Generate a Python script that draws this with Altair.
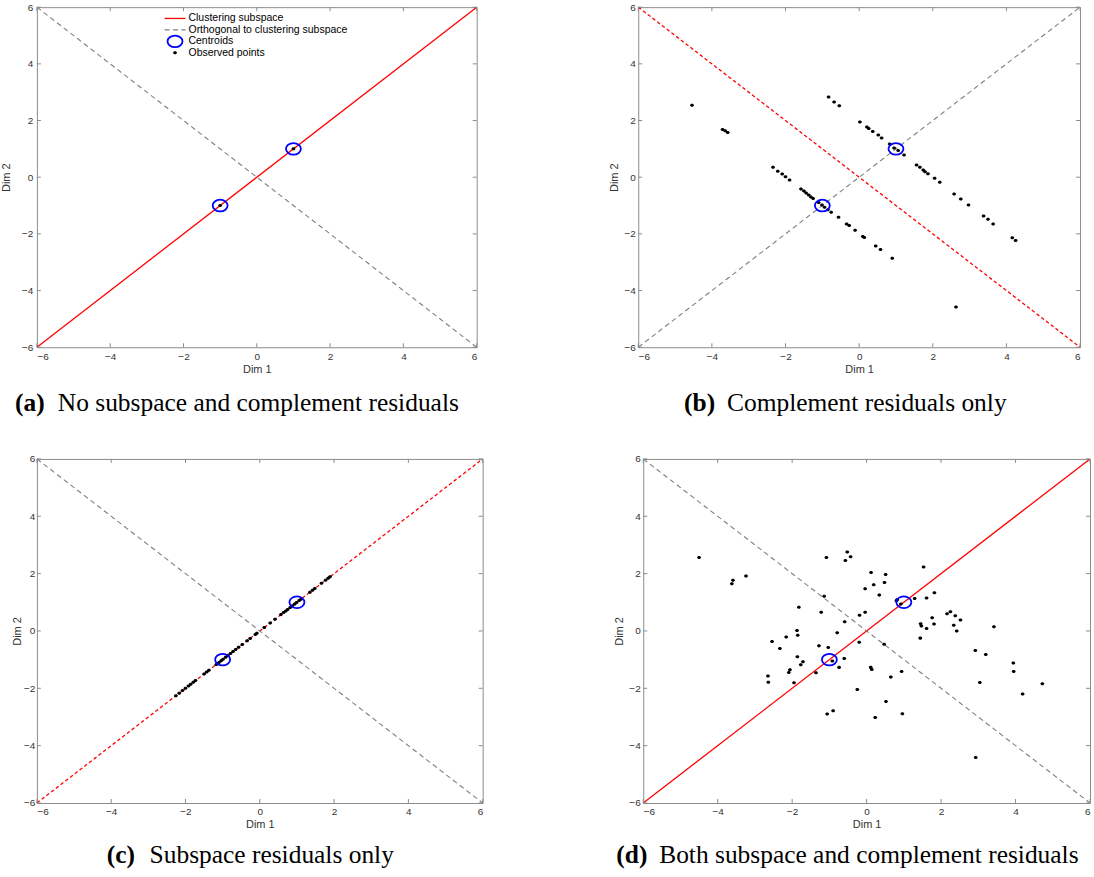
import altair as alt
import pandas as pd

# ---- values -------------------------------------------------------------
TICKS = [-6, -4, -2, 0, 2, 4, 6]

LINE_X = [-6, 6]
DIAG_UP = [-6, 6]     # y = x
DIAG_DOWN = [6, -6]   # y = -x

CENTROID_X = [-1, 1]
CENTROID_Y = [-1, 1]

# (a) observations sit exactly on the centroids
A_X = [-1, 1]
A_Y = [-1, 1]

# (b) residuals only in the complement direction
B_X = [-4.54, -3.71, -3.64, -3.57, -0.83, -0.68, -0.54, 0.02, 0.21, 0.26,
       0.37, 0.52, 0.61, 0.83, 0.95, 1.06, 1.22, 1.56, 1.65, 1.74,
       1.79, 1.87, 2.05, 2.19, 2.58, 2.76, 2.97, 3.38, 3.50, 3.64,
       4.16, 4.25, 2.63,
       -2.34, -2.21, -2.09, -2.00, -1.89, -1.58, -1.50, -1.44, -1.37, -1.31,
       -1.25, -1.10, -1.01, -0.94, -0.85, -0.76, -0.56, -0.34, -0.27, -0.11,
       0.10, 0.14, 0.45, 0.58, 0.90]
B_Y = [2.54, 1.68, 1.64, 1.58, 2.83, 2.65, 2.52, 1.95, 1.77, 1.72,
       1.61, 1.49, 1.38, 1.17, 1.03, 0.94, 0.78, 0.43, 0.35, 0.25,
       0.19, 0.12, -0.04, -0.18, -0.59, -0.77, -0.98, -1.37, -1.48, -1.65,
       -2.14, -2.23, -4.58,
       0.35, 0.21, 0.11, 0.02, -0.10, -0.42, -0.49, -0.56, -0.63, -0.70,
       -0.75, -0.89, -0.98, -1.06, -1.15, -1.24, -1.41, -1.65, -1.70, -1.87,
       -2.09, -2.13, -2.43, -2.55, -2.86]

# (c) residuals only along the clustering subspace
C_X = [-2.26, -2.17, -2.08, -2.00, -1.92, -1.86, -1.79, -1.73, -1.50, -1.43,
       -1.37, -1.17, -1.10, -1.04, -0.99, -0.92, -0.86, -0.79, -0.72, -0.65,
       -0.57, -0.47, -0.34, -0.26, -0.12, -0.08, 0.12, 0.28, 0.41, 0.57,
       0.64, 0.70, 0.75, 0.82, 0.88, 0.94, 0.99, 1.06, 1.11, 1.35,
       1.42, 1.48, 1.66, 1.77, 1.84, 1.89]
C_Y = [-2.26, -2.17, -2.08, -2.00, -1.92, -1.86, -1.79, -1.73, -1.50, -1.43,
       -1.37, -1.17, -1.10, -1.04, -0.99, -0.92, -0.86, -0.79, -0.72, -0.65,
       -0.57, -0.47, -0.34, -0.26, -0.12, -0.08, 0.12, 0.28, 0.41, 0.57,
       0.64, 0.70, 0.75, 0.82, 0.88, 0.94, 0.99, 1.06, 1.11, 1.35,
       1.42, 1.48, 1.66, 1.77, 1.84, 1.89]

# (d) residuals in both directions
D_X = [-4.50, -3.59, -3.62, -3.24, -1.08, -0.52, -0.43, -0.57, 0.12, 0.19,
       -0.04, 0.34, -1.14, -1.82, -1.22, -0.04, -0.19, -0.59, -1.87, -1.85,
       -0.79, -2.16, -2.54, -0.20, -2.33, -1.28, -1.03, -1.86, -0.60, -1.71,
       -1.77, -0.92, -0.74, 0.11, 0.14, -2.06, -2.09, -1.36, -2.65, -2.64,
       -1.95, -0.25, -0.90, -1.06, 0.23, 1.53, 0.51, 0.48, 0.80, 0.82,
       0.92, 1.29, 1.61, 1.82, 2.16, 2.25, 2.38, 2.52, 2.34, 2.42,
       1.76, 1.81, 1.45, 1.47, 1.61, 1.44, 3.42, 0.47, 2.92, 3.20,
       3.94, 3.95, 0.65, 0.94, 3.04, 4.72, 4.19, 0.52, 0.96, 2.93]
D_Y = [2.56, 1.77, 1.65, 1.92, 2.56, 2.75, 2.59, 2.46, 2.04, 1.61,
       1.47, 1.25, 1.21, 0.83, 0.65, 0.65, 0.55, 0.32, 0.02, -0.15,
       -0.06, -0.21, -0.37, -0.39, -0.61, -0.52, -0.58, -0.90, -0.96, -1.07,
       -1.18, -1.05, -1.27, -1.27, -1.34, -1.35, -1.45, -1.46, -1.57, -1.79,
       -1.81, -2.04, -2.78, -2.90, -3.02, 2.23, 1.97, 1.69, 1.05, 1.09,
       0.94, 1.13, 1.15, 1.33, 0.60, 0.67, 0.53, 0.38, 0.20, 0.00,
       0.46, 0.24, 0.25, 0.17, 0.09, -0.25, 0.15, -0.46, -0.68, -0.82,
       -1.12, -1.41, -1.61, -1.41, -1.80, -1.84, -2.20, -2.46, -2.89, -4.41]

LEGEND_LABELS = ["Clustering subspace", "Orthogonal to clustering subspace",
                 "Centroids", "Observed points"]

# ---- styling --------------------------------------------------------------
FRAME = "#8c8c8c"
TEXT = "#333333"
SANS = "Liberation Sans"
SERIF = "Liberation Serif"
RED = "#ff0000"
GRAY = "#7f7f7f"
BLUE = "#0000ff"
ELLIPSE = "M -1 0 A 1 0.78 0 1 0 1 0 A 1 0.78 0 1 0 -1 0 Z"
TICK_LEN = 4
CAPTION_SIZE = 25.5

X_AXIS = alt.Axis(values=TICKS, title="Dim 1", tickSize=0, domain=False,
                  grid=False, labelFont=SANS, labelFontSize=10,
                  labelColor=TEXT, labelPadding=4, titleFont=SANS,
                  titleFontSize=11, titleFontWeight="normal",
                  titleColor=TEXT, titlePadding=2)


def y_axis(label_pad, title_pad):
    return alt.Axis(values=TICKS, title="Dim 2", tickSize=0, domain=False,
                    grid=False, labelFont=SANS, labelFontSize=10,
                    labelColor=TEXT, labelPadding=label_pad, titleFont=SANS,
                    titleFontSize=11, titleFontWeight="normal",
                    titleColor=TEXT, titlePadding=title_pad)


SX = alt.Scale(domain=[-6, 6], nice=False, zero=False)
SY = alt.Scale(domain=[-6, 6], nice=False, zero=False)


def panel(px, py, red_y, red_dash, gray_y, w, h, bold, text, cap_x, cap_dy,
          text_gap=43, ypad=(3, 4), legend=False):
    yax = y_axis(*ypad)

    def xy(xf, yf):
        return dict(x=alt.X(xf, scale=SX, axis=X_AXIS),
                    y=alt.Y(yf, scale=SY, axis=yax))

    lines = pd.DataFrame({"x": LINE_X, "sub": red_y, "orth": gray_y})
    red_kw = {"strokeDash": red_dash} if red_dash else {}
    red = alt.Chart(lines).mark_line(color=RED, strokeWidth=1.3,
                                     **red_kw).encode(**xy("x:Q", "sub:Q"))
    gray = alt.Chart(lines).mark_line(color=GRAY, strokeWidth=1.1,
                                      strokeDash=[5, 3.5]).encode(
        **xy("x:Q", "orth:Q"))

    # inward ticks on all four sides of the box
    tdf = pd.DataFrame({"t": TICKS})
    tx = alt.X("t:Q", scale=SX, axis=X_AXIS)
    ty = alt.Y("t:Q", scale=SY, axis=yax)
    tick = alt.Chart(tdf).mark_rule(color=FRAME, strokeWidth=1)
    ticks = [
        tick.encode(x=tx, y=alt.value(h), y2=alt.value(h - TICK_LEN)),
        tick.encode(x=tx, y=alt.value(0), y2=alt.value(TICK_LEN)),
        tick.encode(y=ty, x=alt.value(0), x2=alt.value(TICK_LEN)),
        tick.encode(y=ty, x=alt.value(w), x2=alt.value(w - TICK_LEN)),
    ]

    pts = alt.Chart(pd.DataFrame({"x": px, "y": py})).mark_point(
        shape=ELLIPSE, filled=True, size=15, color="black", opacity=1
    ).encode(**xy("x:Q", "y:Q"))

    cen = alt.Chart(pd.DataFrame({"x": CENTROID_X, "y": CENTROID_Y})).mark_point(
        shape=ELLIPSE, filled=False, size=225, color=BLUE, strokeWidth=1.8,
        opacity=1
    ).encode(**xy("x:Q", "y:Q"))

    cap_y = h + cap_dy
    one = pd.DataFrame({"b": [bold], "t": [text]})
    cap_b = alt.Chart(one).mark_text(
        font=SERIF, fontSize=CAPTION_SIZE, fontWeight="bold", align="left",
        baseline="middle", color="black"
    ).encode(text="b:N", x=alt.value(cap_x), y=alt.value(cap_y))
    cap_t = alt.Chart(one).mark_text(
        font=SERIF, fontSize=CAPTION_SIZE, align="left", baseline="middle",
        color="black"
    ).encode(text="t:N", x=alt.value(cap_x + text_gap), y=alt.value(cap_y))

    layers = [red, gray] + ticks + [pts, cen, cap_b, cap_t]

    if legend:
        lx0, lx1, ltxt, ltop, lstep = 128, 149, 152, 11.3, 11.5
        lmid = (lx0 + lx1) / 2
        ldf = pd.DataFrame({"label": LEGEND_LABELS})
        for i in range(len(LEGEND_LABELS)):
            ry = ltop + i * lstep
            row = ldf.iloc[[i]]
            layers.append(alt.Chart(row).mark_text(
                font=SANS, fontSize=10.5, align="left", baseline="middle",
                color="black").encode(text="label:N", x=alt.value(ltxt),
                                      y=alt.value(ry)))
            if i == 0:
                sample = alt.Chart(row).mark_rule(color=RED, strokeWidth=1.3).encode(
                    x=alt.value(lx0), x2=alt.value(lx1), y=alt.value(ry))
            elif i == 1:
                sample = alt.Chart(row).mark_rule(color=GRAY, strokeWidth=1.1,
                                                  strokeDash=[5, 3.5]).encode(
                    x=alt.value(lx0), x2=alt.value(lx1), y=alt.value(ry))
            elif i == 2:
                sample = alt.Chart(row).mark_point(
                    shape=ELLIPSE, filled=False, size=225, color=BLUE,
                    strokeWidth=1.8, opacity=1).encode(x=alt.value(lmid),
                                                       y=alt.value(ry))
            else:
                sample = alt.Chart(row).mark_point(
                    shape=ELLIPSE, filled=True, size=15, color="black",
                    opacity=1).encode(x=alt.value(lmid), y=alt.value(ry))
            layers.append(sample)

    return alt.layer(*layers).properties(width=w, height=h)


pa = panel(A_X, A_Y, DIAG_UP, None, DIAG_DOWN, 441, 341,
           "(a)", "No subspace and complement residuals", -22, 56,
           ypad=(4, 10), legend=True)
pb = panel(B_X, B_Y, DIAG_DOWN, [3.5, 2.5], DIAG_UP, 443, 341,
           "(b)", "Complement residuals only", 46, 56)
pc = panel(C_X, C_Y, DIAG_UP, [3.5, 2.5], DIAG_DOWN, 447, 345,
           "(c)", "Subspace residuals only", 70, 52, ypad=(2, 1))
pd_ = panel(D_X, D_Y, DIAG_UP, None, DIAG_DOWN, 448, 345,
            "(d)", "Both subspace and complement residuals", -27, 52)

top = alt.hconcat(pa, pb, spacing=128)
bottom = alt.hconcat(pc, pd_, spacing=127)

chart = alt.vconcat(top, bottom, spacing=36).properties(
    padding={"left": 0, "top": 0, "right": 0, "bottom": 0},
    background="white",
).configure_view(stroke=FRAME, strokeWidth=1)

chart.save("out.html", embed_options={"renderer": "svg", "actions": False})
